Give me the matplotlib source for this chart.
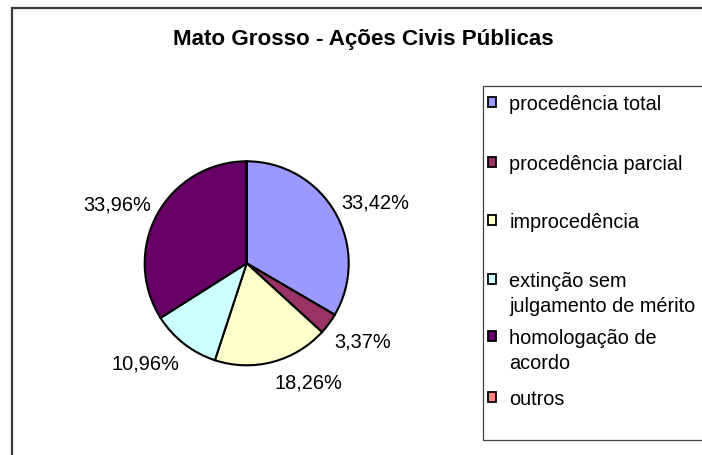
import matplotlib
matplotlib.use("Agg")
import matplotlib.pyplot as plt
from matplotlib.patches import Rectangle

plt.rcParams['font.family'] = ['Liberation Sans', 'DejaVu Sans']

# Data
title = "Mato Grosso - Ações Civis Públicas"
categories = [
    "procedência total",
    "procedência parcial",
    "improcedência",
    "extinção sem\njulgamento de mérito",
    "homologação de\nacordo",
    "outros",
]
percentages = [33.42, 3.37, 18.26, 10.96, 33.96, 0.03]
colors = ["#9999FF", "#993366", "#FFFFCC", "#CCFFFF", "#660066", "#FF8080"]

W, H = 702, 455
DPI = 100
fig = plt.figure(figsize=(W / DPI, H / DPI), dpi=DPI)
fig.patch.set_facecolor("white")


def fx(px):
    return px / W


def fy(py):
    return 1 - py / H


# Outer chart frame (runs off the right and bottom edges)
fig.add_artist(Rectangle((fx(12), -0.1), 1.2, fy(7.5) + 0.1,
                         transform=fig.transFigure, fill=False,
                         ec="#3c3c3c", lw=1.6))

# Title
fig.text(fx(363.5), fy(45), title, ha="center", va="baseline",
         fontsize=16.1, fontweight="bold", color="black")

# Pie
cx, cy, r = 246.7, 263.3, 102.0
half = 1.25 * r
ax = fig.add_axes([fx(cx - half), fy(cy + half), 2 * half / W, 2 * half / H])


def fmt(v):
    return f"{v:.2f}%".replace(".", ",") if v >= 0.5 else ""


wedges, texts = ax.pie(
    percentages,
    colors=colors,
    labels=[fmt(v) for v in percentages],
    startangle=90,
    counterclock=False,
    labeldistance=1.07,
    wedgeprops=dict(edgecolor="black", linewidth=1.5),
    textprops=dict(fontsize=14.4, color="black"),
)
# Labels sit just outside the rim, on the side facing away from the pie
for t in texts:
    x, y = t.get_position()
    if y < 0:
        t.set_va("top")
        t.set_position((x, y - 0.045))
    else:
        t.set_va("baseline")
ax.set_xlim(-1.25, 1.25)
ax.set_ylim(-1.25, 1.25)
ax.set_aspect("equal")
ax.axis("off")

# Legend box (runs off the right edge)
fig.add_artist(Rectangle((fx(482.7), fy(440)), 1.0, fy(86) - fy(440),
                         transform=fig.transFigure, fill=False,
                         ec="#404040", lw=0.9))

# Legend entries: first-line baselines in pixels, 25 px per extra line
entry_baselines = [110, 170, 228, 287, 344, 405]
line_step = 25
for label, color, base in zip(categories, colors, entry_baselines):
    fig.add_artist(Rectangle((fx(487.5), fy(base - 3)), 9 / W, 10 / H,
                             transform=fig.transFigure, fc=color,
                             ec="black", lw=1.3))
    for i, line in enumerate(label.split("\n")):
        fig.text(fx(509.3), fy(base + i * line_step), line, ha="left",
                 va="baseline", fontsize=14.3, color="black")

fig.savefig("out.png", dpi=DPI)
